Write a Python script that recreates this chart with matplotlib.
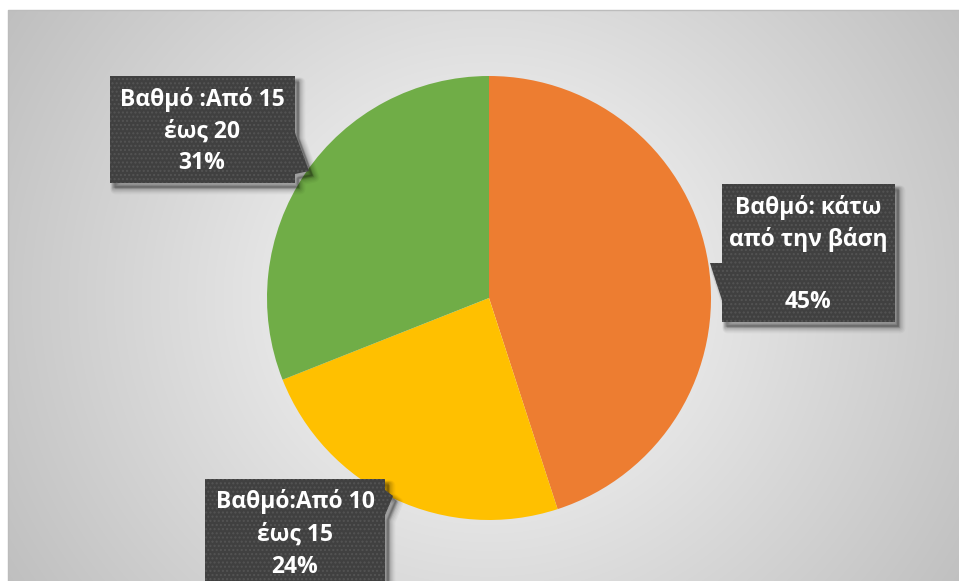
import numpy as np
import matplotlib
matplotlib.use("Agg")
import matplotlib.pyplot as plt
from matplotlib.patches import Polygon

# Grade distribution
categories = ["Βαθμό: κάτω από την βάση", "Βαθμό:Από 10 έως 15", "Βαθμό :Από 15 έως 20"]
shares = [45, 24, 31]
colors = ["#ED7D31", "#FFC000", "#70AD47"]
label_lines = [
    ["Βαθμό: κάτω", "από την βάση", "", "45%"],
    ["Βαθμό:Από 10", "έως 15", "24%"],
    ["Βαθμό :Από 15", "έως 20", "31%"],
]

W, H = 959, 581
fig = plt.figure(figsize=(W / 100, H / 100), dpi=100)
fig.patch.set_facecolor("white")
ax = fig.add_axes([0, 0, 1, 1])


def Y(y):
    # pixel row (top-down) -> data y (bottom-up)
    return H - y


# radial gradient backdrop of the chart area
cx, cy = 489, 298
x0, y0 = 8, 10
xs = np.arange(x0, W) + 0.5
ys = np.arange(y0, H) + 0.5
gx, gy = np.meshgrid(xs, ys)
r = np.hypot((gx - cx) / 1.05, gy - cy)
v = 1.0 - 0.25 * np.clip(r / 540, 0, 1.2) ** 0.95
img = np.dstack([v, v, v])
ax.imshow(img, extent=(x0, W, Y(H), Y(y0)), origin="upper", zorder=0,
          interpolation="bilinear")
ax.plot([x0, x0, W], [Y(H), Y(y0), Y(y0)], color="#bcbcbc", lw=1.0, zorder=1)

# pie
ax.pie(shares, colors=colors, startangle=90, counterclock=False,
       center=(cx, Y(cy)), radius=222, frame=True,
       wedgeprops=dict(linewidth=0, zorder=2))
ax.set_xlim(0, W)
ax.set_ylim(0, H)
ax.set_aspect("equal")
ax.axis("off")

# callout shapes (pixel coords, top-down)
callouts = [
    [(722, 184), (895, 184), (895, 322), (722, 322), (722, 300), (710, 263), (722, 263)],
    [(205, 479), (385, 479), (385, 490), (393, 496), (385, 515), (385, 600), (205, 600)],
    [(110, 76), (295, 76), (295, 133), (309, 171), (295, 174), (295, 183), (110, 183)],
]
text_pos = [
    (808, [208, 239, 271, 302]),
    (295, [502, 535, 567]),
    (202, [99, 132, 163]),
]

plt.rcParams["hatch.linewidth"] = 1.0

for pts, (tx, tys), lines in zip(callouts, text_pos, label_lines):
    # soft shadow
    for k, a in zip(range(6, 0, -1), [0.03, 0.04, 0.05, 0.06, 0.07, 0.08]):
        sp = [(px + 3 + k * 0.4, Y(py + 4 + k * 0.4)) for px, py in pts]
        ax.add_patch(Polygon(sp, closed=True, facecolor="black", edgecolor="black",
                             lw=k * 1.2, alpha=a, joinstyle="round", zorder=3))
    poly = [(px, Y(py)) for px, py in pts]
    ax.add_patch(Polygon(poly, closed=True, facecolor="#404040", edgecolor="none",
                         zorder=4))
    ax.add_patch(Polygon(poly, closed=True, facecolor="none", edgecolor="#545454",
                         lw=0, hatch="....", zorder=4.5))
    for line, ty in zip(lines, tys):
        if line:
            ax.text(tx, Y(ty), line, ha="center", va="center", color="white",
                    fontsize=16.5, fontweight="bold",
                    family=["Open Sans", "DejaVu Sans"], zorder=5)

fig.savefig("out.png", dpi=100, facecolor="white")
